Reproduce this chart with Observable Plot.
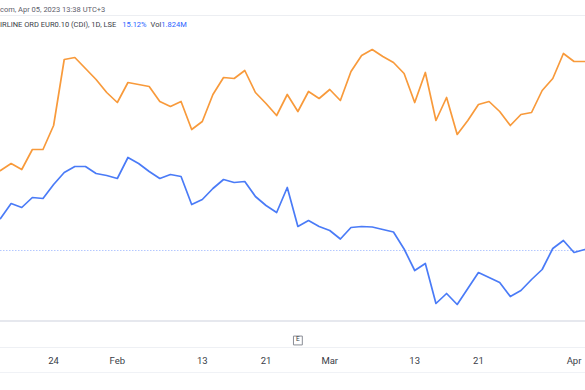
<!DOCTYPE html>
<html>
<head>
<meta charset="utf-8">
<script src="https://cdn.jsdelivr.net/npm/d3@7"></script>
<script src="https://cdn.jsdelivr.net/npm/@observablehq/plot@0.6"></script>
<style>
  html, body { margin: 0; padding: 0; background: #ffffff; }
  #wrap { position: relative; width: 585px; height: 390px; overflow: hidden; font-family: Roboto, "Liberation Sans", sans-serif; }
  #header { position: relative; width: 585px; height: 34px; }
  .h1 { position: absolute; left: 0; top: 5px; font-size: 7.5px; line-height: 10px; color: #5d606b; white-space: nowrap; }
  .h2 { position: absolute; left: 0; top: 20px; font-size: 7.5px; line-height: 10px; color: #3a3d47; white-space: nowrap; }
  .sep { position: absolute; left: 0; width: 585px; height: 1px; background: #eceef2; }
  .blue { color: #2962ff; }
  .gap { margin-left: 6px; }
  .line { position: absolute; left: 0; width: 585px; }
  svg { display: block; }
</style>
</head>
<body>
<div id="wrap">
  <div id="header">
    <div class="h1">com, Apr 05, 2023 13:38 UTC+3</div>
    <div class="sep" style="top:15px"></div>
    <div class="h2">IRLINE ORD EUR0.10 (CDI), 1D, LSE<span class="blue gap">15.12%</span><span class="gap" style="margin-left:4px">Vol</span><span class="blue">1.824M</span></div>
  </div>
  <div id="chart"></div>
  <div class="line" style="top:320px;height:2px;background:#e6e8ee"></div>
  <div class="line" style="top:347px;height:1px;background:#eef0f4"></div>
  <div class="line" style="top:372px;height:1px;background:#f0f2f6"></div>
</div>
<script>
// Trading days shown (Jan 17 – Apr 5, 2023)
const dates = [
  "2023-01-17","2023-01-18","2023-01-19","2023-01-20","2023-01-23","2023-01-24","2023-01-25","2023-01-26","2023-01-27","2023-01-30","2023-01-31",
  "2023-02-01","2023-02-02","2023-02-03","2023-02-06","2023-02-07","2023-02-08","2023-02-09","2023-02-10","2023-02-13","2023-02-14","2023-02-15",
  "2023-02-16","2023-02-17","2023-02-20","2023-02-21","2023-02-22","2023-02-23","2023-02-24","2023-02-27","2023-02-28",
  "2023-03-01","2023-03-02","2023-03-03","2023-03-06","2023-03-07","2023-03-08","2023-03-09","2023-03-10","2023-03-13","2023-03-14","2023-03-15",
  "2023-03-16","2023-03-17","2023-03-20","2023-03-21","2023-03-22","2023-03-23","2023-03-24","2023-03-27","2023-03-28","2023-03-29","2023-03-30","2023-03-31",
  "2023-04-03","2023-04-04","2023-04-05"
];

// Comparison series (orange), % change
const orangeSeries = [
  8.0, 8.7, 8.1, 10.1, 10.1, 12.5, 19.1, 19.3, 18.2, 17.1, 15.8,
  14.8, 16.8, 16.6, 16.4, 14.9, 14.4, 14.9, 12.1, 12.9, 15.6, 17.3,
  17.2, 18.0, 15.8, 14.7, 13.5, 15.6, 13.9, 15.9, 15.2,
  16.1, 15.0, 17.9, 19.5, 20.1, 19.4, 18.8, 17.7, 14.8, 17.8, 13.0,
  15.3, 11.6, 13.0, 14.6, 14.9, 13.9, 12.5, 13.6, 13.8, 16.0, 17.2, 19.7,
  18.9, 18.9, 18.9
];

// Main symbol series (blue), % change
const blueSeries = [
  3.2, 4.7, 4.3, 5.3, 5.2, 6.6, 7.8, 8.4, 8.4, 7.7, 7.5,
  7.2, 9.3, 8.7, 7.9, 7.2, 7.6, 7.4, 4.6, 5.1, 6.2, 7.1,
  6.8, 6.9, 5.4, 4.5, 3.8, 6.3, 2.4, 3.0, 2.4,
  2.0, 1.15, 2.3, 2.4, 2.35, 2.1, 1.85, 0.15, -2.0, -1.3, -5.3,
  -4.3, -5.4, -3.8, -2.2, -2.7, -3.2, -4.6, -4.0, -2.9, -1.9, 0.2, 1.0,
  -0.2, 0.1, 0.0
];

// Time-axis labels
const tickDates = ["2023-01-24","2023-02-01","2023-02-13","2023-02-21","2023-03-01","2023-03-13","2023-03-21","2023-04-03"];
const tickLabels = ["24","Feb","13","21","Mar","13","21","Apr"];

// Event markers
const eventDates = ["2023-02-24"];
const eventLabels = ["E"];

const orangeRows = dates.map((d, i) => ({i, date: d, v: orangeSeries[i]}));
const blueRows = dates.map((d, i) => ({i, date: d, v: blueSeries[i]}));
const tickIdx = tickDates.map(d => dates.indexOf(d));
const tickText = new Map(tickIdx.map((ix, k) => [ix, tickLabels[k]]));
const events = eventDates.map((d, k) => ({i: dates.indexOf(d), label: eventLabels[k]}));
const lastBlue = blueSeries[blueSeries.length - 1];

const chart = Plot.plot({
  width: 585,
  height: 356,
  marginTop: 0,
  marginBottom: 69,
  marginLeft: 0,
  marginRight: 0,
  style: {fontFamily: "Roboto, 'Liberation Sans', sans-serif", fontSize: "9.5px", color: "#3a3d47", background: "transparent", overflow: "visible"},
  x: {domain: [0, 55.08], ticks: tickIdx, tickFormat: i => tickText.get(i), tickSize: 0, tickPadding: 36, label: null, line: false},
  y: {domain: [-7.1, 21.6], axis: null},
  marks: [
    Plot.ruleY([lastBlue], {stroke: "#2962ff", strokeOpacity: 0.35, strokeDasharray: "1.5,1.5"}),
    Plot.line(orangeRows, {x: "i", y: "v", stroke: "#f89a3b", strokeWidth: 1.7, clip: true}),
    Plot.line(blueRows, {x: "i", y: "v", stroke: "#4a7bf7", strokeWidth: 1.7, clip: true}),
    Plot.dot(events, {x: "i", frameAnchor: "bottom", dy: 19, symbol: "square", r: 5, fill: "white", stroke: "#8a8d96", strokeWidth: 1}),
    Plot.text(events, {x: "i", frameAnchor: "bottom", dy: 19, text: "label", fontSize: 6.5, fill: "#3a3d47"})
  ]
});
document.getElementById("chart").appendChild(chart);
</script>
</body>
</html>
